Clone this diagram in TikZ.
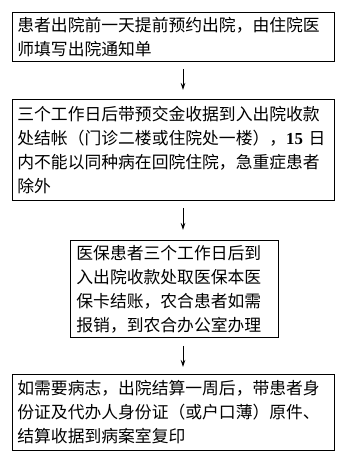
\documentclass[tikz,border=0pt]{standalone}
\usepackage{fontspec}
\setmainfont{Noto Sans CJK SC}
\newfontfamily\numfont{Liberation Serif}
\usetikzlibrary{positioning, arrows.meta}

\tikzset{
  stepbox/.style={draw, line width=0.8pt, align=left, anchor=north west,
    inner xsep=5pt, inner ysep=0pt, font=\fontsize{16.8}{24}\selectfont},
  arr/.style={-{Stealth[length=7pt,width=4.5pt]}, line width=0.8pt}
}

\begin{document}
\begin{tikzpicture}[x=1pt,y=-1pt]
\useasboundingbox (0,0) rectangle (345,458);
% Step 1: booking
\node[stepbox, minimum width=322pt, minimum height=49pt, text width=312pt] (book) at (12,12)
  {患者出院前一天提前预约出院，由住院医\\师填写出院通知单};
% Step 2: settlement
\node[stepbox, minimum width=322pt, minimum height=101pt, text width=312pt] (settle) at (12,99)
  {三个工作日后带预交金收据到入出院收款\\处结帐（门诊二楼或住院处一楼），{\numfont\bfseries 15} 日\\内不能以同种病在回院住院，急重症患者\\除外};
% Step 3: insurance
\node[stepbox, minimum width=208pt, minimum height=97pt, text width=196pt, inner xsep=6pt] (insure) at (70,240)
  {医保患者三个工作日后到\\入出院收款处取医保本医\\保卡结账，农合患者如需\\报销，到农合办公室办理};
% Step 4: records
\node[stepbox, minimum width=322pt, minimum height=76pt, text width=312pt] (record) at (12,374)
  {如需要病志，出院结算一周后，带患者身\\份证及代办人身份证（或户口薄）原件、\\结算收据到病案室复印};

\coordinate (axis) at (183,0);
\draw[arr, shorten <=7pt, shorten >=9pt] (book.south -| axis) -- (settle.north -| axis);
\draw[arr, shorten <=7pt, shorten >=10pt] (settle.south -| axis) -- (insure.north -| axis);
\draw[arr, shorten <=8pt, shorten >=7pt] (insure.south -| axis) -- (record.north -| axis);
\end{tikzpicture}
\end{document}
